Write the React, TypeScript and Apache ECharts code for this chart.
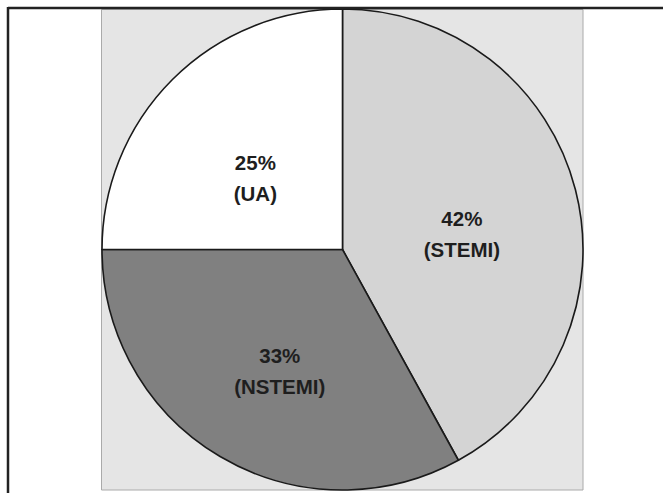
import React, { useEffect, useRef } from "react";
import * as echarts from "echarts";

const categories = ["STEMI", "NSTEMI", "UA"];
const values = [42, 33, 25];
const sliceColors = ["#d4d4d4", "#808080", "#ffffff"];

export default function App() {
  const ref = useRef<HTMLDivElement>(null);
  useEffect(() => {
    if (!ref.current) return;
    const chart = echarts.init(ref.current, undefined, { renderer: "svg" });
    chart.setOption({
      animation: false,
      backgroundColor: "#ffffff",
      graphic: [
        {
          type: "rect",
          z: -10,
          shape: { x: 101.5, y: 9.5, width: 481.5, height: 480.5 },
          style: { fill: "#e5e5e5", stroke: "#aaaaaa", lineWidth: 1 },
        },
        {
          type: "line",
          z: 100,
          shape: { x1: 8, y1: 8, x2: 663, y2: 8 },
          style: { stroke: "#222222", lineWidth: 2.5 },
        },
        {
          type: "line",
          z: 100,
          shape: { x1: 8, y1: 7, x2: 8, y2: 493 },
          style: { stroke: "#222222", lineWidth: 2.5 },
        },
      ],
      series: [
        {
          type: "pie",
          center: [342.5, 249.5],
          radius: 240.5,
          startAngle: 90,
          clockwise: true,
          silent: true,
          labelLine: { show: false },
          itemStyle: { borderColor: "#1a1a1a", borderWidth: 1.6 },
          label: {
            show: true,
            position: "inside",
            formatter: (p: any) => `{s|}\n{t|${p.value}%}\n{t|(${p.name})}`,
            rich: {
              s: { height: 31, lineHeight: 31 },
              t: {
                fontFamily: "Liberation Sans, Arial, sans-serif",
                fontWeight: "bold",
                fontSize: 20.5,
                lineHeight: 31,
                color: "#1e1e1e",
              },
            },
          },
          data: categories.map((c, i) => ({
            name: c,
            value: values[i],
            itemStyle: { color: sliceColors[i] },
          })),
        },
      ],
    });
    return () => chart.dispose();
  }, []);
  return (
    <div
      ref={ref}
      style={{ position: "fixed", left: 0, top: 0, width: 663, height: 493 }}
    />
  );
}
